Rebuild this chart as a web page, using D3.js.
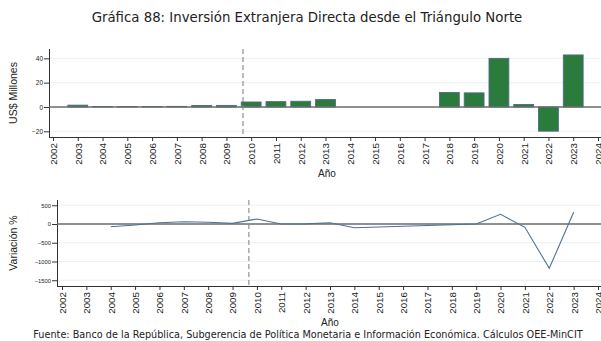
<!DOCTYPE html>
<html>
<head>
<meta charset="utf-8">
<script src="https://cdn.jsdelivr.net/npm/d3@7"></script>
<style>
  html, body { margin: 0; padding: 0; background: #fff; }
  svg { display: block; }
</style>
</head>
<body>
<svg id="chart" width="601" height="341"></svg>
<script>
// Foreign direct investment from the Northern Triangle (US$ millions) and yearly change (%)
const years = [2003, 2004, 2005, 2006, 2007, 2008, 2009, 2010, 2011, 2012, 2013,
               2014, 2015, 2016, 2017, 2018, 2019, 2020, 2021, 2022, 2023];
const inversion = [1.5, 0.4, 0.3, 0.4, 0.5, 1.2, 1.3, 4.1, 4.4, 4.7, 6.1,
                   0, 0, 0, 0, 11.9, 11.6, 40.0, 2.0, -19.9, 42.8];

const yearsVar = [2004, 2005, 2006, 2007, 2008, 2009, 2010, 2011, 2012, 2013,
                  2014, 2015, 2016, 2017, 2018, 2019, 2020, 2021, 2022, 2023];
const variacion = [-72, -27, 35, 62, 45, 18, 133, 2, 3, 35,
                   -98, -80, -60, -40, -20, 0, 258, -89, -1182, 312];

const xTicks = d3.range(2002, 2025);
const yTicksTop = [-20, 0, 20, 40];
const yTicksBottom = [-1500, -1000, -500, 0, 500];
const markerYear = 2009.67;

const titleText = "Gráfica 88: Inversión Extranjera Directa desde el Triángulo Norte";
const sourceText = "Fuente: Banco de la República, Subgerencia de Política Monetaria e Información Económica. Cálculos OEE-MinCIT";

const svg = d3.select("#chart");
const sans = "'Liberation Sans', Arial, sans-serif";
const verd = "'DejaVu Sans', Verdana, sans-serif";

svg.append("text")
  .attr("x", 307).attr("y", 22)
  .attr("text-anchor", "middle")
  .style("font-family", verd).style("font-size", "13.3px").attr("fill", "#222")
  .text(titleText);

function panel(cfg) {
  const g = svg.append("g");
  const x = d3.scaleLinear().domain([2002, 2024]).range(cfg.xRange);
  const y = d3.scaleLinear().domain(cfg.yDomain).range([cfg.bottom, cfg.top]);

  // light horizontal grid
  g.selectAll(".grid").data(cfg.yTicks.filter(d => d !== 0)).enter().append("line")
    .attr("x1", cfg.left).attr("x2", 601)
    .attr("y1", d => y(d)).attr("y2", d => y(d))
    .attr("stroke", "#eaf2f3").attr("stroke-width", 1);

  // x axis
  const xAxis = g.append("g")
    .attr("transform", `translate(0,${cfg.bottom})`)
    .call(d3.axisBottom(x).tickValues(xTicks).tickFormat(d3.format("d")).tickSize(4).tickSizeOuter(0));
  xAxis.select(".domain").attr("d", `M${cfg.left},0.5H601`).attr("stroke", "#333");
  xAxis.selectAll(".tick line").attr("stroke", "#333");
  xAxis.selectAll(".tick text")
    .attr("transform", "rotate(-90)")
    .attr("x", -6).attr("y", 0).attr("dy", "0.35em")
    .attr("text-anchor", "end")
    .style("font-family", sans).style("font-size", "9.8px").attr("fill", "#222");

  // y axis
  const yAxis = g.append("g")
    .attr("transform", `translate(${cfg.left},0)`)
    .call(d3.axisLeft(y).tickValues(cfg.yTicks).tickFormat(d3.format("d")).tickSize(5).tickSizeOuter(0));
  yAxis.select(".domain").attr("d", `M0.5,${cfg.top}V${cfg.bottom + 1}`).attr("stroke", "#333");
  yAxis.selectAll(".tick line").attr("stroke", "#333");
  yAxis.selectAll(".tick text")
    .attr("x", -6)
    .style("font-family", sans).style("font-size", cfg.yFont).attr("fill", "#222");

  // marks layer sits under the zero reference
  const marks = g.append("g");

  // zero reference
  g.append("line")
    .attr("x1", cfg.left).attr("x2", 601)
    .attr("y1", y(0)).attr("y2", y(0))
    .attr("stroke", "#6b6b6b").attr("stroke-width", 1.4);

  // axis titles
  g.append("text")
    .attr("transform", `translate(${cfg.yTitleX},${(cfg.top + cfg.bottom) / 2}) rotate(-90)`)
    .attr("text-anchor", "middle")
    .style("font-family", sans).style("font-size", "10.5px").attr("fill", "#222")
    .text(cfg.yTitle);
  g.append("text")
    .attr("x", cfg.xTitleX).attr("y", cfg.xTitleY)
    .attr("text-anchor", "middle")
    .style("font-family", sans).style("font-size", "10px").attr("fill", "#222")
    .text("Año");

  return { g, marks, x, y };
}

// upper panel: amounts
const upper = panel({
  left: 49, top: 49, bottom: 137, xRange: [53, 598],
  yDomain: [-24.7, 47.7], yTicks: yTicksTop, yFont: "6.5px",
  yTitle: "US$ Millones", yTitleX: 17, xTitleX: 327, xTitleY: 177
});

const bw = (upper.x(2003) - upper.x(2002)) * 0.8;
upper.marks.selectAll("rect")
  .data(years.map((yr, i) => ({ yr, v: inversion[i] })).filter(d => d.v !== 0))
  .enter().append("rect")
  .attr("x", d => upper.x(d.yr) - bw / 2)
  .attr("width", bw)
  .attr("y", d => upper.y(Math.max(0, d.v)))
  .attr("height", d => Math.abs(upper.y(d.v) - upper.y(0)))
  .attr("fill", "#2b7b3d")
  .attr("stroke", "#4d6b88").attr("stroke-width", 0.9);

upper.g.append("line")
  .attr("x1", upper.x(markerYear)).attr("x2", upper.x(markerYear))
  .attr("y1", 49).attr("y2", 137)
  .attr("stroke", "#888").attr("stroke-width", 1.1).attr("stroke-dasharray", "5,3");

// lower panel: yearly change
const lower = panel({
  left: 57, top: 200, bottom: 286, xRange: [62, 598],
  yDomain: [-1653, 640], yTicks: yTicksBottom, yFont: "5.8px",
  yTitle: "Variación %", yTitleX: 17, xTitleX: 330, xTitleY: 326
});

lower.g.append("line")
  .attr("x1", lower.x(markerYear)).attr("x2", lower.x(markerYear))
  .attr("y1", 200).attr("y2", 286)
  .attr("stroke", "#888").attr("stroke-width", 1.1).attr("stroke-dasharray", "5,3");

lower.g.append("path")
  .datum(yearsVar.map((yr, i) => [yr, variacion[i]]))
  .attr("fill", "none")
  .attr("stroke", "#4f7294").attr("stroke-width", 1.1)
  .attr("d", d3.line().x(d => lower.x(d[0])).y(d => lower.y(d[1])));

svg.append("text")
  .attr("x", 308).attr("y", 338)
  .attr("text-anchor", "middle")
  .style("font-family", verd).style("font-size", "9.7px").attr("fill", "#222")
  .text(sourceText);
</script>
</body>
</html>
